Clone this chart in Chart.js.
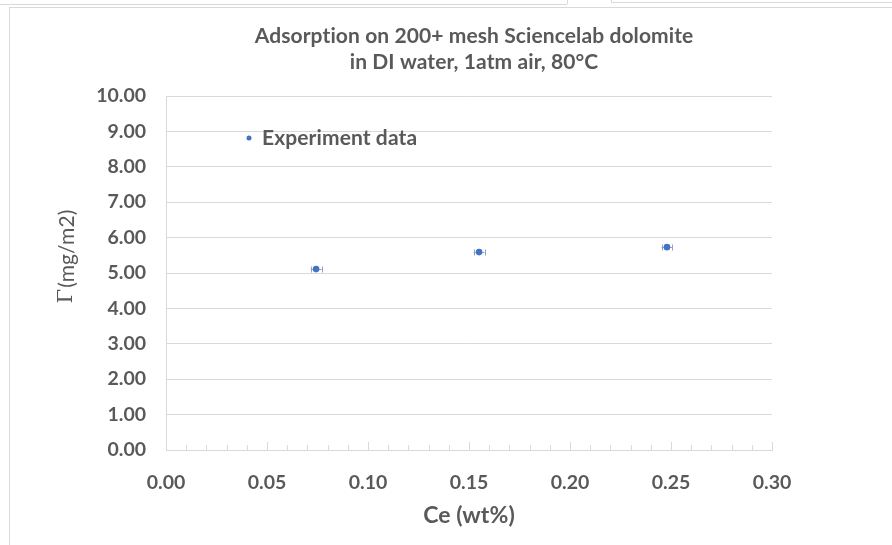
<!DOCTYPE html>
<html>
<head>
<meta charset="utf-8">
<script src="https://cdn.jsdelivr.net/npm/chart.js@4.4.1/dist/chart.umd.min.js"></script>
<style>
  body { margin: 0; background: #fff; overflow: hidden; }
  #wrap { position: relative; width: 892px; height: 545px; }
  #frame { position: absolute; left: 9px; top: 7px; width: 900px; height: 560px; border: 1px solid #d9d9d9; }
  #topA { position: absolute; left: 0; top: 4px; width: 567px; height: 0; border-top: 1px solid #d9d9d9; }
  #topAv { position: absolute; left: 567px; top: 0; width: 0; height: 4px; border-left: 1px solid #d9d9d9; }
  #topB { position: absolute; left: 611px; top: 0; width: 300px; height: 2px; border-left: 1px solid #d9d9d9; border-bottom: 1px solid #d9d9d9; }
  canvas { position: absolute; left: 0; top: 0; }
</style>
</head>
<body>
<div id="wrap">
  <div id="topA"></div><div id="topAv"></div><div id="topB"></div>
  <div id="frame"></div>
  <canvas id="myChart" width="892" height="545"></canvas>
</div>
<script>
var ceValues = [0.0743, 0.155, 0.248];
var gammaValues = [5.11, 5.59, 5.73];
var ceErrors = [0.0027, 0.0027, 0.0027];
var xTickValues = [0, 0.05, 0.10, 0.15, 0.20, 0.25, 0.30];
var yTickValues = [0, 1, 2, 3, 4, 5, 6, 7, 8, 9, 10];
var titleLines = ['Adsorption on 200+ mesh Sciencelab dolomite', 'in DI water, 1atm air, 80\u00B0C'];
var seriesName = 'Experiment data';
var xTitle = 'Ce (wt%)';

var textColor = '#595959';
var pointColor = '#4472C4';

var points = [];
for (var i = 0; i < ceValues.length; i++) {
  points.push({x: ceValues[i], y: gammaValues[i]});
}

// error bars, minor ticks, title, legend, axis titles
var decorPlugin = {
  id: 'decor',
  beforeDatasetsDraw: function(chart) {
    var ctx = chart.ctx;
    var xs = chart.scales.x, ys = chart.scales.y;
    ctx.save();
    ctx.strokeStyle = '#8ea3c8';
    ctx.lineWidth = 1;
    for (var i = 0; i < ceValues.length; i++) {
      var x1 = xs.getPixelForValue(ceValues[i] - ceErrors[i]);
      var x2 = xs.getPixelForValue(ceValues[i] + ceErrors[i]);
      var y = Math.round(ys.getPixelForValue(gammaValues[i])) + 0.5;
      ctx.beginPath();
      ctx.moveTo(x1, y); ctx.lineTo(x2, y);
      ctx.moveTo(Math.round(x1) + 0.5, y - 3); ctx.lineTo(Math.round(x1) + 0.5, y + 3);
      ctx.moveTo(Math.round(x2) + 0.5, y - 3); ctx.lineTo(Math.round(x2) + 0.5, y + 3);
      ctx.stroke();
    }
    // x axis tick marks, every 0.01, inside
    var bottom = chart.chartArea.bottom;
    ctx.strokeStyle = '#d9d9d9';
    for (var k = 1; k <= 30; k++) {
      var px = Math.round(xs.getPixelForValue(k / 100)) + 0.5;
      var len = (k % 5 === 0) ? 8 : 5;
      ctx.beginPath();
      ctx.moveTo(px, bottom); ctx.lineTo(px, bottom - len);
      ctx.stroke();
    }
    ctx.restore();
  },
  afterDraw: function(chart) {
    var ctx = chart.ctx;
    ctx.save();
    ctx.letterSpacing = '0.1px'; // no "ti" ligature
    ctx.fillStyle = textColor;
    ctx.textAlign = 'center';
    ctx.textBaseline = 'middle';
    ctx.font = 'bold 21px Lato';
    ctx.fillText(titleLines[0], 474, 36);
    ctx.fillText(titleLines[1], 474, 62);

    // legend
    ctx.fillStyle = pointColor;
    ctx.beginPath();
    ctx.arc(249, 138, 2.5, 0, Math.PI * 2);
    ctx.fill();
    ctx.fillStyle = textColor;
    ctx.textAlign = 'left';
    ctx.font = 'bold 21px Lato';
    ctx.fillText(seriesName, 262, 138);

    // x title
    ctx.textAlign = 'center';
    ctx.font = 'bold 23px Lato';
    ctx.fillText(xTitle, 469, 516);

    // y title
    ctx.translate(67, 257);
    ctx.rotate(-Math.PI / 2);
    ctx.textAlign = 'left';
    var g = '\u0393', rest = '(mg/m2)';
    ctx.font = '21px "DejaVu Serif"';
    var w1 = ctx.measureText(g).width;
    ctx.font = '21px Lato';
    var w2 = ctx.measureText(rest).width;
    var sx = -(w1 + w2) / 2;
    ctx.font = '21px "DejaVu Serif"';
    ctx.fillText(g, sx, 0);
    ctx.font = '21px Lato';
    ctx.fillText(rest, sx + w1 + 1, 0);
    ctx.restore();
  }
};

var ctx = document.getElementById('myChart').getContext('2d');
var chart = new Chart(ctx, {
  type: 'scatter',
  data: {
    datasets: [{
      label: seriesName,
      data: points,
      backgroundColor: pointColor,
      borderWidth: 0,
      pointRadius: 3.3
    }]
  },
  options: {
    responsive: false,
    animation: false,
    layout: { padding: { left: 0, top: 96, right: 120, bottom: 0 } },
    plugins: {
      legend: { display: false },
      title: { display: false },
      tooltip: { enabled: false }
    },
    scales: {
      x: {
        type: 'linear',
        min: 0,
        max: 0.3,
        afterBuildTicks: function(s) { s.ticks = xTickValues.map(function(v) { return {value: v}; }); },
        afterFit: function(s) { s.height = 95; },
        grid: { display: false },
        border: { display: true, color: '#d9d9d9', width: 1 },
        ticks: {
          padding: 13,
          color: textColor,
          font: { family: 'Lato', weight: 'bold', size: 19.5 },
          callback: function(v) { return v.toFixed(2); }
        }
      },
      y: {
        min: 0,
        max: 10,
        afterBuildTicks: function(s) { s.ticks = yTickValues.map(function(v) { return {value: v}; }); },
        afterFit: function(s) { s.width = 166; },
        grid: { color: '#d9d9d9', drawTicks: false },
        border: { display: true, color: '#d9d9d9', width: 1 },
        ticks: {
          padding: 20,
          color: textColor,
          font: { family: 'Lato', weight: 'bold', size: 19.5 },
          callback: function(v) { return v.toFixed(2); }
        }
      }
    }
  },
  plugins: [decorPlugin]
});
</script>
</body>
</html>
